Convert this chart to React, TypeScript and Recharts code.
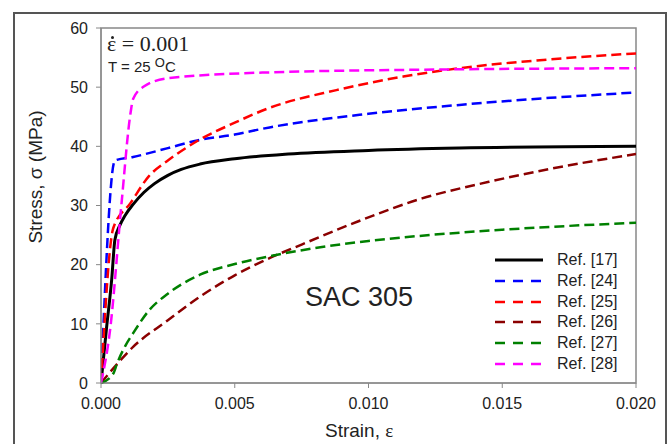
import { LineChart, Line, XAxis, YAxis, ReferenceArea } from "recharts";

// strain / stress pairs
const ref17 = [[0, 0], [0.0002, 9], [0.0004, 17.5], [0.00052, 24.2], [0.0007, 26.6], [0.0009, 28.3], [0.0012, 30.2], [0.0016, 32.2], [0.002, 33.7], [0.0025, 35.1], [0.003, 36.1], [0.0037, 37.0], [0.005, 37.9], [0.007, 38.7], [0.01, 39.3], [0.0134, 39.7], [0.02, 40]];
const ref24 = [[0, 0], [0.00052, 37.6], [0.0012, 38.2], [0.0025, 39.7], [0.0036, 41.0], [0.005, 42.0], [0.0063, 43.2], [0.01, 45.5], [0.0134, 47.0], [0.0168, 48.2], [0.02, 49.1]];
const ref25 = [[0, 0], [0.00046, 26.2], [0.0011, 30.4], [0.0018, 35.0], [0.0025, 37.6], [0.0036, 40.9], [0.005, 44.0], [0.0063, 46.5], [0.0088, 49.5], [0.0113, 51.8], [0.0134, 53.2], [0.0168, 54.7], [0.02, 55.7]];
const ref26 = [[0, 0], [0.0006, 3.2], [0.0012, 6.1], [0.0025, 10.6], [0.0037, 14.6], [0.005, 18.2], [0.0062, 20.9], [0.0075, 23.4], [0.0096, 27.3], [0.012, 31.2], [0.0145, 34.0], [0.0168, 36.2], [0.02, 38.7]];
const ref27 = [[0, 0], [0.00046, 1.6], [0.0006, 3.3], [0.0009, 6.2], [0.0012, 8.4], [0.0018, 12.3], [0.0025, 15.1], [0.0037, 18.3], [0.005, 20.1], [0.0065, 21.6], [0.008, 22.8], [0.01, 24.0], [0.012, 24.9], [0.015, 25.9], [0.02, 27.1]];
const ref28 = [[0, 0], [0.00034, 9], [0.00077, 30.5], [0.0011, 45.5], [0.0012, 48], [0.0016, 50.1], [0.0025, 51.5], [0.0063, 52.5], [0.013, 53], [0.02, 53.2]];

const seriesNames = ["Ref. [17]", "Ref. [24]", "Ref. [25]", "Ref. [26]", "Ref. [27]", "Ref. [28]"];
const seriesData = [ref17, ref24, ref25, ref26, ref27, ref28];
const seriesColors = ["#000000", "#0000ff", "#ff0000", "#8b0000", "#008000", "#ff00ff"];

const strainTicks = [0, 0.005, 0.01, 0.015, 0.02];
const stressTicks = [0, 10, 20, 30, 40, 50, 60];

const font = "'Liberation Sans', Arial, sans-serif";
const serif = "'Liberation Serif', 'Times New Roman', serif";

const toPoints = (pairs: number[][]) => pairs.map(([x, y]) => ({ x, y }));

const LegendBox = () => (
  <div style={{ position: "absolute", left: 494, top: 250, fontFamily: font, fontSize: 16, color: "#222" }}>
    {seriesNames.map((name, i) => (
      <div key={name} style={{ display: "flex", alignItems: "center", height: 20.7 }}>
        <svg width={50} height={10} style={{ marginRight: 13 }}>
          <line x1={1} y1={5} x2={49} y2={5} stroke={seriesColors[i]} strokeWidth={i === 0 ? 3 : 2.5}
            strokeDasharray={i === 0 ? undefined : "10 8"} />
        </svg>
        <span>{name}</span>
      </div>
    ))}
  </div>
);

export default function App() {
  return (
    <div style={{ position: "absolute", left: 0, top: 0, width: 670, height: 444, background: "#fff", overflow: "hidden" }}>
      {/* outer figure frame */}
      <div style={{ position: "absolute", left: 13, top: 12, width: 650, height: 480, border: "2px solid #555" }} />

      <LineChart width={670} height={444} margin={{ top: 28, right: 34, bottom: 16, left: 61 }}
        style={{ position: "absolute", left: 0, top: 0 }}>
        <XAxis type="number" dataKey="x" domain={[0, 0.02]} ticks={strainTicks} height={45}
          tickFormatter={(v) => v.toFixed(3)} stroke="#888" tickSize={5} tickMargin={10}
          tick={{ fontSize: 16, fill: "#222", fontFamily: font }} allowDataOverflow />
        <YAxis type="number" domain={[0, 60]} ticks={stressTicks} width={40} stroke="#888" tickSize={5} tickMargin={8}
          tick={{ fontSize: 16, fill: "#222", fontFamily: font }} />
        <ReferenceArea x1={0} x2={0.02} y1={0} y2={60} fill="none" stroke="#888" strokeWidth={1.5} />
        {seriesData.map((pairs, i) => (
          <Line key={seriesNames[i]} data={toPoints(pairs)} dataKey="y" name={seriesNames[i]} type="monotone"
            stroke={seriesColors[i]} strokeWidth={i === 0 ? 3 : 2.5}
            strokeDasharray={i === 0 ? undefined : "10 5"} dot={false} isAnimationActive={false} />
        ))}
      </LineChart>

      <LegendBox />

      {/* axis titles */}
      <div style={{ position: "absolute", left: 325, top: 420, fontFamily: font, fontSize: 19, color: "#222", whiteSpace: "nowrap" }}>
        Strain, <span style={{ fontFamily: serif }}>ε</span>
      </div>
      <div style={{ position: "absolute", left: 36, top: 177, fontFamily: font, fontSize: 19, color: "#222", whiteSpace: "nowrap",
        transform: "translate(-50%, -50%) rotate(-90deg)" }}>
        Stress, σ (MPa)
      </div>

      {/* annotations */}
      <div style={{ position: "absolute", left: 107, top: 33, fontFamily: serif, fontSize: 22, lineHeight: "22px", color: "#222", whiteSpace: "nowrap" }}>
        <span style={{ position: "relative", display: "inline-block" }}>
          ε
          <span style={{ position: "absolute", left: 4, top: 3, width: 3, height: 3, borderRadius: 2, background: "#222" }} />
        </span>
        {" = 0.001"}
      </div>
      <div style={{ position: "absolute", left: 108, top: 58, fontFamily: font, fontSize: 15, lineHeight: "17px", color: "#222", whiteSpace: "nowrap" }}>
        T = 25 <span style={{ fontSize: 13, position: "relative", top: -5 }}>O</span>C
      </div>
      <div style={{ position: "absolute", left: 305, top: 282, fontFamily: font, fontSize: 27, color: "#222", whiteSpace: "nowrap" }}>
        SAC 305
      </div>
    </div>
  );
}
